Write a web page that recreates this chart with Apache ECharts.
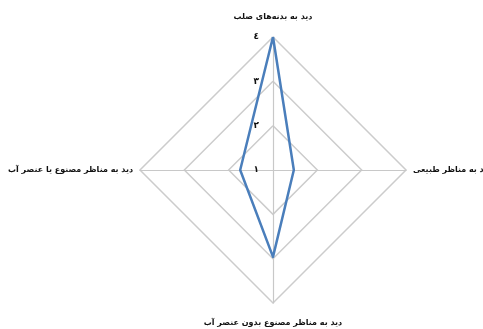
<!DOCTYPE html>
<html>
<head>
<meta charset="utf-8">
<script src="https://cdn.jsdelivr.net/npm/echarts@6/dist/echarts.min.js"></script>
<style>
  html, body { margin: 0; padding: 0; background: #fff; }
  #chart { width: 483px; height: 329px; }
</style>
</head>
<body>
<div id="chart"></div>
<script>
// indicators go counter-clockwise from the top
const indicatorNames = [
  'دید به بدنه‌های صلب',
  'دید به مناظر مصنوع یا عنصر آب',
  'دید به مناظر مصنوع بدون عنصر آب',
  'دید به مناظر طبیعی'
];
const seriesValues = [4, 1.74, 2.96, 1.47];
const tickLabels = { 1: '١', 2: '٢', 3: '٣', 4: '٤' };

const chart = echarts.init(document.getElementById('chart'));

chart.setOption({
  animation: false,
  radar: {
    center: [273, 170],
    radius: 133,
    shape: 'polygon',
    splitNumber: 3,
    startAngle: 90,
    indicator: indicatorNames.map((name, i) => ({
      name: name,
      min: 1,
      max: 4,
      axisLabel: i === 0 ? { show: true } : undefined
    })),
    axisName: {
      color: '#111',
      fontFamily: 'DejaVu Sans',
      fontWeight: 'bold',
      fontSize: 8,
      padding: [9, 0, 9, 0]
    },
    nameGap: 7,
    axisLine: { lineStyle: { color: '#c8c8c8', width: 1.2 } },
    splitLine: { lineStyle: { color: '#cccccc', width: 1.5 } },
    splitArea: { show: false },
    axisTick: { show: false },
    axisLabel: {
      show: false,
      color: '#111',
      fontFamily: 'DejaVu Sans',
      fontWeight: 'bold',
      fontSize: 9,
      margin: 14,
      formatter: v => tickLabels[v] || ''
    }
  },
  series: [{
    type: 'radar',
    symbol: 'none',
    lineStyle: { color: '#4a7ebb', width: 2.5 },
    data: [{ value: seriesValues }]
  }]
});
</script>
</body>
</html>
